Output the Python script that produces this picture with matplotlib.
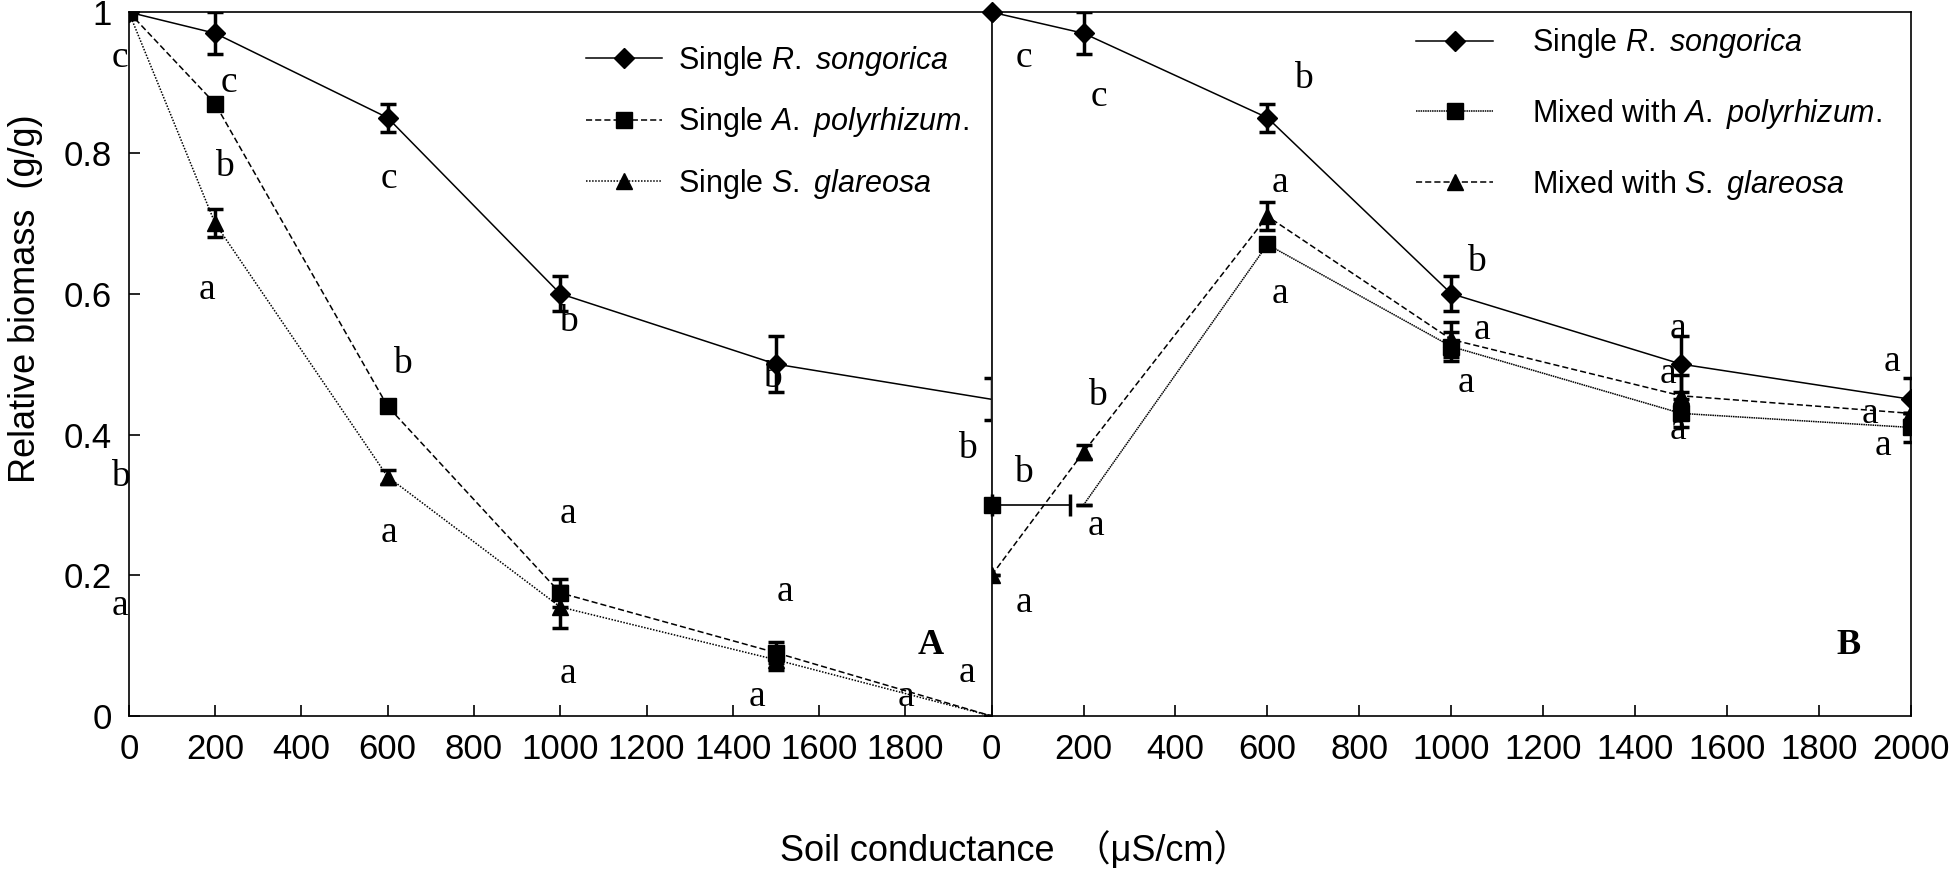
import matplotlib
matplotlib.use("Agg")
import matplotlib.pyplot as plt
from matplotlib.lines import Line2D

plt.rcParams['font.family'] = ['Liberation Sans', 'DejaVu Sans']
plt.rcParams['mathtext.fontset'] = 'custom'
plt.rcParams['mathtext.it'] = 'Liberation Sans:italic'
plt.rcParams['mathtext.rm'] = 'Liberation Sans'

# ---- data: panel A (single) ----
xa = [0, 200, 600, 1000, 1500, 2000]
a_rs = [1.0, 0.97, 0.85, 0.60, 0.50, 0.45]
a_rs_err = [0, 0.03, 0.02, 0.025, 0.04, 0.03]
a_ap = [1.0, 0.87, 0.44, 0.175, 0.09, 0.0]
a_ap_err = [0, 0, 0, 0.02, 0.015, 0]
a_sg = [1.0, 0.70, 0.34, 0.155, 0.08, 0.0]
a_sg_err = [0, 0.02, 0.01, 0.03, 0.015, 0]

# ---- data: panel B (mixed) ----
xb = [0, 200, 600, 1000, 1500, 2000]
b_rs = [1.0, 0.97, 0.85, 0.60, 0.50, 0.45]
b_rs_err = [0, 0.03, 0.02, 0.025, 0.04, 0.03]
b_sg = [0.20, 0.375, 0.71, 0.535, 0.455, 0.43]
b_sg_err = [0, 0.01, 0.02, 0.025, 0.03, 0]
xb_ap = [200, 600, 1000, 1500, 2000]
b_ap = [0.30, 0.67, 0.525, 0.43, 0.41]
b_ap_err = [0, 0, 0.02, 0.02, 0.02]
b_ap_first = 0.30      # drawn at x=0 with sideways bar as in the original
b_ap_first_xerr = 170

# significance letters (x, y, letter)
letters_a = [(-20, 0.935, 'c'), (231, 0.90, 'c'), (222, 0.78, 'b'), (182, 0.605, 'a'),
             (603, 0.763, 'c'), (635, 0.50, 'b'), (-20, 0.34, 'b'), (603, 0.26, 'a'),
             (-20, 0.156, 'a'), (1019, 0.56, 'b'), (1019, 0.287, 'a'), (1019, 0.06, 'a'),
             (1492, 0.48, 'b'), (1521, 0.177, 'a'), (1455, 0.028, 'a'), (1801, 0.028, 'a'),
             (1945, 0.38, 'b'), (1942, 0.062, 'a')]
letters_b = [(70, 0.935, 'c'), (233, 0.88, 'c'), (679, 0.905, 'b'), (628, 0.757, 'a'),
             (628, 0.60, 'a'), (1055, 0.645, 'b'), (1066, 0.549, 'a'), (1031, 0.474, 'a'),
             (230, 0.455, 'b'), (70, 0.345, 'b'), (227, 0.27, 'a'), (70, 0.161, 'a'),
             (1494, 0.55, 'a'), (1472, 0.487, 'a'), (1494, 0.407, 'a'),
             (1959, 0.504, 'a'), (1911, 0.43, 'a'), (1938, 0.384, 'a')]

xticks_a = [0, 200, 400, 600, 800, 1000, 1200, 1400, 1600, 1800]
xticks_b = [0, 200, 400, 600, 800, 1000, 1200, 1400, 1600, 1800, 2000]
yticks = [0, 0.2, 0.4, 0.6, 0.8, 1.0]
ytick_labels = ['0', '0.2', '0.4', '0.6', '0.8', '1']

fig = plt.figure(figsize=(19.52, 8.69), dpi=100)
axA = fig.add_axes([0.066, 0.176, 0.442, 0.810])
axB = fig.add_axes([0.508, 0.176, 0.471, 0.810])

eb = dict(color='black', ecolor='black', elinewidth=2.5, capsize=6, capthick=2.5, lw=1.1)
last_off = 5 * [True] + [False]

# panel A
axA.errorbar(xa, a_sg, yerr=a_sg_err, marker='^', ms=12, ls=(0, (1, 1)), markevery=last_off, **eb)
axA.errorbar(xa, a_ap, yerr=a_ap_err, marker='s', ms=12, ls=(0, (4, 2)), markevery=last_off, **eb)
axA.errorbar(xa, a_rs, yerr=a_rs_err, marker='D', ms=10, ls='-', markevery=last_off, **eb)

# panel B
axB.errorbar(xb, b_rs, yerr=b_rs_err, marker='D', ms=10, ls='-', **eb)
axB.errorbar(xb_ap, b_ap, yerr=b_ap_err, marker='none', ls=(0, (1, 0.5)), **eb)
axB.plot(xb_ap[1:], b_ap[1:], 's', ms=12, color='black')
axB.errorbar([0], [b_ap_first], xerr=[[0], [b_ap_first_xerr]], marker='s', ms=12,
             color='black', ecolor='black', elinewidth=1.2, capsize=8, capthick=2.5,
             clip_on=False)
axB.errorbar(xb, b_sg, yerr=b_sg_err, marker='^', ms=12, ls=(0, (4, 2)), **eb)
axB.plot([0], [b_rs[0]], 'D', ms=10, color='black', clip_on=False)

for ax in (axA, axB):
    ax.set_xlim(0, 2000)
    ax.set_ylim(0, 1)
    ax.tick_params(direction='in', length=8, width=1.2, labelsize=25, pad=12)
    for s in ax.spines.values():
        s.set_linewidth(1.2)

axA.set_xticks(xticks_a)
axA.set_yticks(yticks)
axA.set_yticklabels(ytick_labels)
axA.spines['right'].set_color('#bbbbbb')
axB.set_xticks(xticks_b)
axB.set_yticks([])

for x, y, t in letters_a:
    axA.text(x, y, t, family='Liberation Serif', fontsize=27, ha='center', va='center',
             clip_on=False)
for x, y, t in letters_b:
    axB.text(x, y, t, family='Liberation Serif', fontsize=27, ha='center', va='center',
             clip_on=False)
axA.text(1858, 0.10, 'A', family='Liberation Serif', fontsize=26, weight='bold',
         ha='center', va='center')
axB.text(1865, 0.10, 'B', family='Liberation Serif', fontsize=26, weight='bold',
         ha='center', va='center')

# legends
hA = [Line2D([], [], color='black', marker='D', ms=10, lw=1.1, ls='-'),
      Line2D([], [], color='black', marker='s', ms=12, lw=1.1, ls=(0, (4, 2))),
      Line2D([], [], color='black', marker='^', ms=12, lw=1.1, ls=(0, (1, 1)))]
labA = [r'Single $\mathit{R.\ songorica}$', r'Single $\mathit{A.\ polyrhizum.}$',
        r'Single $\mathit{S.\ glareosa}$']
axA.legend(hA, labA, loc='upper left', bbox_to_anchor=(0.53, 0.955), frameon=False,
           fontsize=22, handlelength=2.5, handletextpad=0.5, labelspacing=0.9,
           borderaxespad=0, borderpad=0)

hB = [Line2D([], [], color='black', marker='D', ms=10, lw=1.1, ls='-'),
      Line2D([], [], color='black', marker='s', ms=12, lw=1.1, ls=(0, (1, 0.5))),
      Line2D([], [], color='black', marker='^', ms=12, lw=1.1, ls=(0, (4, 2)))]
labB = [r'Single $\mathit{R.\ songorica}$', r'Mixed with $\mathit{A.\ polyrhizum.}$',
        r'Mixed with $\mathit{S.\ glareosa}$']
axB.legend(hB, labB, loc='upper left', bbox_to_anchor=(0.462, 0.98), frameon=False,
           fontsize=22, handlelength=2.5, handletextpad=1.3, labelspacing=1.2,
           borderaxespad=0, borderpad=0)

fig.text(0.004, 0.656, 'Relative biomass  (g/g)', rotation=90, ha='left', va='center',
         fontsize=26)
fig.text(0.52, 0.0, 'Soil conductance  （μS/cm）', ha='center', va='bottom',
         fontsize=26, family=['Liberation Sans', 'Noto Sans CJK SC', 'DejaVu Sans'])

fig.savefig('out.png', dpi=100)
